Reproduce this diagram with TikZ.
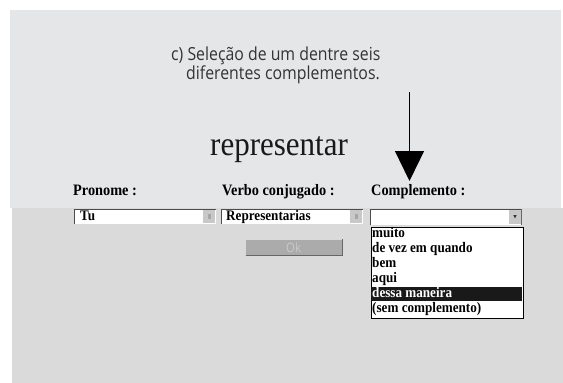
\documentclass[tikz,border=0pt]{standalone}
\usepackage{fontspec}
\setmainfont[FakeStretch=0.9]{Liberation Serif}
\newfontfamily\titlefont[FakeStretch=0.92]{Liberation Serif}
\newfontfamily\annfont[FakeStretch=0.88]{Open Sans}
\usetikzlibrary{arrows.meta}
\definecolor{upperbg}{HTML}{E5E6E8}
\definecolor{lowerbg}{HTML}{DADADA}
\definecolor{anntext}{HTML}{333333}
\definecolor{btngray}{HTML}{ABABAB}
\definecolor{btntext}{HTML}{C9C9C9}
\definecolor{scrollgray}{HTML}{C8C8C8}
\tikzset{
  lbl/.style={anchor=base west,inner sep=0pt,font=\fontsize{15.9}{17}\selectfont\bfseries},
  item/.style={anchor=base west,inner sep=0pt,font=\fontsize{14.6}{16}\selectfont\bfseries},
  ann/.style={anchor=base west,inner sep=0pt,text=anntext,font=\annfont\fontsize{18}{19}\selectfont},
}
\begin{document}
\begin{tikzpicture}[x=1pt,y=-1pt]
\useasboundingbox (0,0) rectangle (563,383);
\fill[white] (0,0) rectangle (563,383);
% panels
\fill[lowerbg] (12,208) rectangle (563,383);
\fill[upperbg] (10,10) rectangle (561,208);
% annotation
\node[ann] (ann1) at (171,60) {c) Seleção de um dentre seis};
\node[ann] (ann2) at (186,79) {diferentes complementos.};
\node[anchor=base west,inner sep=0pt,font=\titlefont\fontsize{33.7}{36}\selectfont,text=black!90] (title) at (210,155) {representar};
% arrow
\coordinate (arrowtop) at (409.5,92);
\coordinate (arrowtip) at (409.5,181);
\draw[line width=1.3pt,-{Triangle[length=30pt,width=29pt]}] (arrowtop) -- (arrowtip);
% labels
\node[lbl] (lpron) at (73,195) {Pronome :};
\node[lbl] (lverb) at (222,195) {Verbo conjugado :};
\node[lbl] (lcomp) at (371,195) {Complemento :};
% select 1
\fill[white] (74,209) rectangle (216,224);
\draw[black!70,line width=0.8pt] (74.4,224) -- (74.4,209.4) -- (216,209.4);
\fill[scrollgray] (203,210) rectangle (215,223);
\fill[black!35] (207.5,214) rectangle (210.5,219);
\node[item] (vpron) at (80,220.5) {Tu};
% select 2
\fill[white] (221,209) rectangle (363,224);
\draw[black!70,line width=0.8pt] (221.4,224) -- (221.4,209.4) -- (363,209.4);
\fill[scrollgray] (350,210) rectangle (362,223);
\fill[black!35] (354.5,214) rectangle (357.5,219);
\node[item] (vverb) at (226,220.5) {Representarias};
% select 3
\fill[white] (370,209) rectangle (522,225);
\draw[black!70,line width=0.8pt] (370.4,225) -- (370.4,209.4) -- (522,209.4);
\draw[black!60,line width=0.8pt] (521.6,209.4) -- (521.6,225);
\fill[scrollgray] (509,210) rectangle (521,224);
\fill[black!80] (513.3,215) -- (516.7,215) -- (515,218.5) -- cycle;
% list
\node[draw=black,line width=0.9pt,fill=white,minimum width=152pt,minimum height=91pt,inner sep=0pt,anchor=north west] (list) at (370.5,226.5) {};
\fill[black!90] (371,287) rectangle (522,301);
\node[item] (i1) at (372,237.5) {muito};
\node[item] (i2) at (372,252.5) {de vez em quando};
\node[item] (i3) at (372,267) {bem};
\node[item] (i4) at (372,282) {aqui};
\node[item,text=white] (i5) at (372,297.5) {dessa maneira};
\node[item] (i6) at (372,312) {(sem complemento)};
% OK button
\node[fill=btngray,minimum width=97pt,minimum height=16pt,inner sep=0pt,anchor=north west,text=btntext,font=\annfont\fontsize{13}{14}\selectfont] (ok) at (245,239) {Ok};
\draw[black!60,line width=1pt] (245.5,255) -- (342,255) -- (342,239);
\draw[white!85!black,line width=0.8pt] (245.5,255) -- (245.5,239.5) -- (342,239.5);
\end{tikzpicture}
\end{document}
